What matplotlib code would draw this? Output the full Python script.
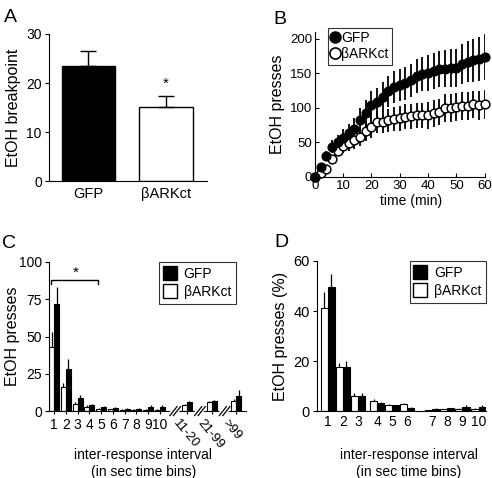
# %% Biblioteki
import matplotlib.pyplot as plt
from matplotlib.transforms import blended_transform_factory
from matplotlib.lines import Line2D
import numpy as np

plt.rcParams["font.family"] = ["Liberation Sans", "DejaVu Sans"]
plt.rcParams["font.size"] = 10

# %% Dane
# A - breakpoint
grupy = ["GFP", "βARKct"]
breakpoint_sr = [23.5, 15.2]
breakpoint_sem = [3.0, 2.2]

# B - narastajaca liczba nacisniec
czas = [0, 2, 4, 6, 8, 10, 12, 14, 16, 18, 20, 22, 24, 26, 28, 30,
        32, 34, 36, 38, 40, 42, 44, 46, 48, 50, 52, 54, 56, 58, 60]
gfp_kum = [0, 14, 30, 44, 50, 57, 63, 70, 83, 92, 104, 108, 116, 124, 130, 133,
           136, 140, 146, 149, 151, 154, 156, 157, 158, 158, 163, 167, 169, 171, 174]
gfp_kum_sem = [0, 4, 7, 9, 11, 12, 13, 15, 17, 19, 20, 21, 22, 22, 23, 23,
               24, 24, 25, 25, 26, 26, 26, 27, 27, 27, 29, 30, 31, 32, 33]
bark_kum = [0, 5, 12, 26, 38, 45, 49, 53, 58, 66, 72, 79, 80, 82, 84, 85,
            87, 88, 89, 89, 89, 92, 94, 100, 100, 101, 103, 103, 105, 104, 105]
bark_kum_sem = [0, 2, 4, 6, 8, 10, 11, 12, 13, 14, 15, 16, 16, 17, 17, 18,
                18, 18, 18, 18, 19, 19, 19, 20, 20, 20, 20, 20, 20, 21, 21]

# C - odstepy miedzy odpowiedziami (liczba)
c_etykiety = ["1", "2", "3", "4", "5", "6", "7", "8", "9", "10", "11-20", "21-99", ">99"]
c_gfp = [72, 28, 8.7, 3.8, 2.7, 2.2, 1.5, 1.5, 2.5, 2.5, 6.2, 6.7, 10]
c_gfp_sem = [11, 7, 2.3, 0.9, 0.6, 0.8, 0.5, 0.5, 1.5, 1.5, 0.8, 0.8, 4]
c_bark = [43, 16, 5, 3, 1.5, 1.2, 0.8, 0.8, 0.8, 1, 4, 6, 7]
c_bark_sem = [10, 3, 1, 1, 0.4, 0.4, 0.3, 0.3, 0.3, 0.4, 0.6, 1, 1]

# D - odstepy miedzy odpowiedziami (%)
d_etykiety = ["1", "2", "3", "4", "5", "6", "7", "8", "9", "10"]
d_gfp = [49.7, 17.8, 6.0, 3.1, 2.3, 1.3, 0.9, 1.2, 1.6, 1.5]
d_gfp_sem = [5.0, 2.4, 1.3, 0.4, 0.3, 0.2, 0.2, 0.2, 0.7, 0.8]
d_bark = [41.2, 17.8, 6.0, 4.0, 2.4, 2.8, 0.5, 0.7, 0.9, 0.9]
d_bark_sem = [6.6, 1.5, 1.3, 1.0, 0.4, 0.5, 0.1, 0.1, 0.2, 0.2]

# %% Rysunek
fig = plt.figure(figsize=(4.92, 4.78), dpi=100)


def spines(ax):
    ax.spines["top"].set_visible(False)
    ax.spines["right"].set_visible(False)


def legenda(ax, uchwyty, etykiety, **kw):
    leg = ax.legend(uchwyty, etykiety, frameon=True, fancybox=False,
                    edgecolor="black", borderaxespad=0, fontsize=10, **kw)
    leg.get_frame().set_linewidth(0.8)
    return leg


# ---- A
axA = fig.add_axes([0.099, 0.621, 0.322, 0.308])
xa = np.arange(len(grupy))
axA.bar(xa, breakpoint_sr, width=0.69, color=["black", "white"],
        edgecolor="black", linewidth=1)
axA.errorbar(xa, breakpoint_sr, yerr=[[0, 0], breakpoint_sem], fmt="none",
             ecolor="black", elinewidth=1, capsize=6, capthick=1)
axA.text(1, 19.8, "*", ha="center", va="center", fontsize=11)
axA.set_xlim(-0.51, 1.53)
axA.set_ylim(0, 30)
axA.set_yticks([0, 10, 20, 30])
axA.set_xticks(xa)
axA.set_xticklabels(grupy, fontsize=10.5)
axA.tick_params(axis="x", length=0, pad=4)
axA.tick_params(axis="y", length=3, pad=2, labelsize=10)
axA.set_ylabel("EtOH breakpoint", fontsize=11.5)
axA.yaxis.set_label_coords(-0.175, 0.5)
spines(axA)

# ---- B
axB = fig.add_axes([0.640, 0.630, 0.345, 0.303])
axB.errorbar(czas, gfp_kum, yerr=gfp_kum_sem, fmt="none", ecolor="black",
             elinewidth=1.3, capsize=0, zorder=2)
axB.errorbar(czas, bark_kum, yerr=bark_kum_sem, fmt="none", ecolor="black",
             elinewidth=1.3, capsize=0, zorder=2)
axB.plot(czas, gfp_kum, "o", color="black", markersize=6.3, clip_on=False, zorder=4)
axB.plot(czas, bark_kum, "o", markerfacecolor="white", markeredgecolor="black",
         markeredgewidth=1.1, markersize=6.3, clip_on=False, zorder=3)
axB.set_xlim(0, 60)
axB.set_ylim(0, 210)
axB.set_xticks([0, 10, 20, 30, 40, 50, 60])
axB.set_yticks([0, 50, 100, 150, 200])
axB.tick_params(direction="in", length=3, pad=2, labelsize=9.5)
axB.set_xlabel("time (min)", va="top", fontsize=10)
axB.xaxis.set_label_coords(0.565, -0.116)
axB.set_ylabel("EtOH presses", fontsize=11.5)
axB.yaxis.set_label_coords(-0.176, 0.5)
spines(axB)
kolka = [Line2D([], [], marker="o", ls="none", color="black", markersize=8),
         Line2D([], [], marker="o", ls="none", markerfacecolor="white",
                markeredgecolor="black", markeredgewidth=1.2, markersize=8)]
legenda(axB, kolka, ["GFP", "βARKct"], loc="upper left",
        bbox_to_anchor=(0.075, 1.03), handlelength=0.5, handletextpad=0.25,
        borderpad=0.25, labelspacing=0.15)

# ---- C
axC = fig.add_axes([0.0996, 0.140, 0.40, 0.312])
xc = np.array([1, 2, 3, 4, 5, 6, 7, 8, 9, 10, 12.3, 14.4, 16.5])
szer_c = 0.42
axC.bar(xc - szer_c / 2, c_bark, width=szer_c, color="white", edgecolor="black",
        linewidth=0.8)
axC.bar(xc + szer_c / 2, c_gfp, width=szer_c, color="black", edgecolor="black",
        linewidth=0.8)
axC.errorbar(xc - szer_c / 2, c_bark, yerr=[np.zeros(len(xc)), c_bark_sem],
             fmt="none", ecolor="black", elinewidth=0.9, capsize=0)
axC.errorbar(xc + szer_c / 2, c_gfp, yerr=[np.zeros(len(xc)), c_gfp_sem],
             fmt="none", ecolor="black", elinewidth=0.9, capsize=0)
axC.set_xlim(0.57, 17.3)
axC.set_ylim(0, 100)
axC.set_yticks([0, 25, 50, 75, 100])
axC.set_xticks(xc)
axC.set_xticklabels(c_etykiety[:10] + [""] * 3)
axC.tick_params(axis="x", length=2, pad=3, labelsize=10)
axC.tick_params(axis="y", length=3, pad=2, labelsize=10)
for xx, lab in zip(xc[10:], c_etykiety[10:]):
    axC.text(xx - 0.6, -4, lab, rotation=-50, ha="left", va="top",
             rotation_mode="anchor", fontsize=9.5)
# przerwy na osi
tr = blended_transform_factory(axC.transData, axC.transAxes)
for xb in (11.3, 13.4, 15.5):
    axC.plot([xb - 0.25, xb + 0.25], [-0.015, 0.015], color="white", lw=4,
             transform=tr, clip_on=False, zorder=5)
    for dx in (-0.15, 0.15):
        axC.plot([xb + dx - 0.3, xb + dx + 0.3], [-0.03, 0.03], color="black",
                 lw=0.9, transform=tr, clip_on=False, zorder=6)
# nawias istotnosci
axC.plot([0.72, 0.72, 4.7, 4.7], [85, 88, 88, 85], color="black", lw=1)
axC.text(2.8, 93, "*", ha="center", va="center", fontsize=11)
axC.set_ylabel("EtOH presses", fontsize=11.5)
axC.yaxis.set_label_coords(-0.147, 0.5)
axC.set_xlabel("inter-response interval\n(in sec time bins)", va="top",
               linespacing=1.25, fontsize=10)
axC.xaxis.set_label_coords(0.48, -0.248)
spines(axC)
kwadraty = [Line2D([], [], marker="s", ls="none", color="black", markersize=10),
            Line2D([], [], marker="s", ls="none", markerfacecolor="white",
                   markeredgecolor="black", markersize=10)]
legenda(axC, kwadraty, ["GFP", "βARKct"], loc="upper right",
        bbox_to_anchor=(0.95, 1.0), handlelength=0.8, handletextpad=0.6,
        borderpad=0.35, labelspacing=0.3)

# ---- D
axD = fig.add_axes([0.644, 0.140, 0.344, 0.314])
xd = np.array([1, 2, 3, 4.27, 5.27, 6.27, 7.93, 8.93, 9.93, 11.0])
szer_d = 0.47
axD.bar(xd - szer_d / 2, d_bark, width=szer_d, color="white", edgecolor="black",
        linewidth=0.8)
axD.bar(xd + szer_d / 2, d_gfp, width=szer_d, color="black", edgecolor="black",
        linewidth=0.8)
axD.errorbar(xd - szer_d / 2, d_bark, yerr=[np.zeros(len(xd)), d_bark_sem],
             fmt="none", ecolor="black", elinewidth=0.9, capsize=0)
axD.errorbar(xd + szer_d / 2, d_gfp, yerr=[np.zeros(len(xd)), d_gfp_sem],
             fmt="none", ecolor="black", elinewidth=0.9, capsize=0)
axD.set_xlim(0.27, 11.5)
axD.set_ylim(0, 60)
axD.set_yticks([0, 20, 40, 60])
axD.set_xticks(xd)
axD.set_xticklabels(d_etykiety)
axD.tick_params(axis="x", length=0, pad=3, labelsize=10)
axD.tick_params(axis="y", length=3, pad=2, labelsize=10.5)
axD.set_ylabel("EtOH presses (%)", fontsize=11.5)
axD.yaxis.set_label_coords(-0.17, 0.5)
axD.set_xlabel("inter-response interval\n(in sec time bins)", va="top",
               linespacing=1.25, fontsize=10)
axD.xaxis.set_label_coords(0.545, -0.245)
spines(axD)
legenda(axD, kwadraty, ["GFP", "βARKct"], loc="upper right",
        bbox_to_anchor=(1.0, 1.0), handlelength=0.8, handletextpad=0.6,
        borderpad=0.35, labelspacing=0.3)

# litery paneli
for lit, (px, py) in zip("ABCD", [(4, 22), (273, 24), (2, 248), (274, 247)]):
    fig.text(px / 492, 1 - py / 478, lit, fontsize=14, ha="left", va="baseline")

fig.savefig("out.png", dpi=100)
